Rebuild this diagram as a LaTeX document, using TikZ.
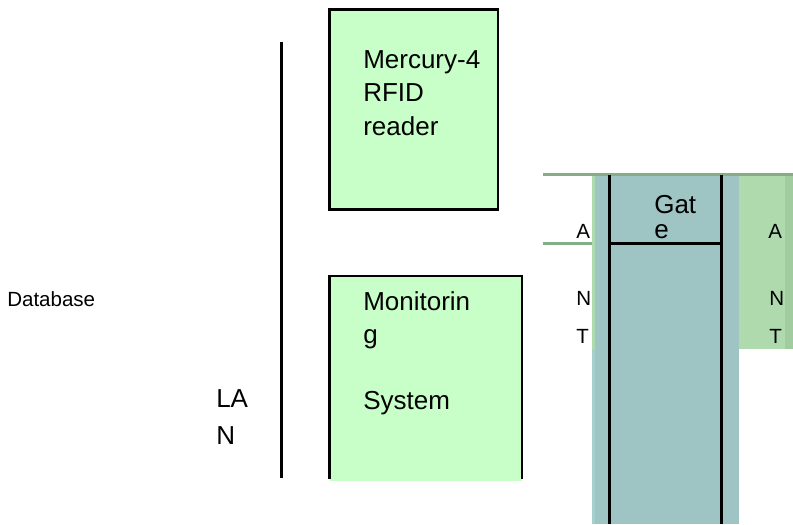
\documentclass[tikz,border=0pt]{standalone}
\usepackage{fontspec}
\setmainfont{Liberation Sans}
\definecolor{boxgreen}{HTML}{C8FFC8}
\definecolor{gateteal}{HTML}{9EC4C4}
\definecolor{gateedge}{HTML}{A6CFCF}
\definecolor{antgreen}{HTML}{AEDAAE}
\definecolor{antdark}{HTML}{A0CCA0}
\definecolor{rulegreen}{HTML}{85AD8A}
\tikzset{
  big/.style={anchor=base west,inner sep=0pt,font=\fontsize{19.5pt}{22pt}\selectfont},
  small/.style={anchor=base west,inner sep=0pt,font=\fontsize{15.4pt}{17pt}\selectfont},
  blackline/.style={draw=black,line width=2.2pt},
  rule/.style={draw=rulegreen,line width=2.2pt}
}
\begin{document}
\begin{tikzpicture}[x=0.75pt,y=-0.75pt]
\useasboundingbox (0,0) rectangle (793,525);
% gate and antenna fills
\fill[gateedge] (592,348) rectangle (739,524);
\fill[antgreen] (592,175) rectangle (739,349);
\fill[gateteal] (595,174) rectangle (739,524);
\fill[antgreen] (739,175) rectangle (785,349);
\fill[antdark] (785,175) rectangle (793,349);
% rules
\coordinate (r1a) at (543,174.5);
\coordinate (r1b) at (793,174.5);
\coordinate (r2a) at (543,243.5);
\coordinate (r2b) at (592,243.5);
\draw[rule] (r1a) -- (r1b);
\draw[rule] (r2a) -- (r2b);
% gate lines
\coordinate (g1a) at (609.5,175); \coordinate (g1b) at (609.5,524);
\coordinate (g2a) at (721.5,175); \coordinate (g2b) at (721.5,524);
\coordinate (g3a) at (609.5,243.5); \coordinate (g3b) at (721.5,243.5);
\draw[blackline] (g1a) -- (g1b);
\draw[blackline] (g2a) -- (g2b);
\draw[blackline] (g3a) -- (g3b);
% LAN line
\coordinate (lan1) at (281.5,42); \coordinate (lan2) at (281.5,478);
\draw[blackline] (lan1) -- (lan2);
% reader box
\coordinate (rdA) at (329.5,9.5); \coordinate (rdB) at (498,209.5);
\draw[blackline,fill=boxgreen] (rdA) rectangle (rdB);
% monitoring box
\coordinate (moA) at (329.5,276); \coordinate (moB) at (522,481);
\fill[boxgreen] (moA) rectangle (moB);
\coordinate (mo1) at (329.5,479); \coordinate (mo2) at (522,479);
\draw[blackline] (mo1) -- (moA) -- (522,276) -- (mo2);
% text
\node[small] (db) at (7,306) {Database};
\node[big] (t1) at (363,68) {Mercury-4};
\node[big] (t2) at (363,101) {RFID};
\node[big] (t3) at (363,135) {reader};
\node[big] (t4) at (363,310) {Monitorin};
\node[big] (t5) at (363,343) {g};
\node[big] (t6) at (363,409) {System};
\node[big] (t7) at (216,407) {LA};
\node[big] (t8) at (216,444) {N};
\node[big] (t9) at (654,213) {Gat};
\node[big] (t10) at (654,238) {e};
\node[small] (a1) at (576,238) {A};
\node[small] (n1) at (576,305) {N};
\node[small] (s1) at (576,343) {T};
\node[small] (a2) at (768,238) {A};
\node[small] (n2) at (769,305) {N};
\node[small] (s2) at (769,343) {T};
\end{tikzpicture}
\end{document}
